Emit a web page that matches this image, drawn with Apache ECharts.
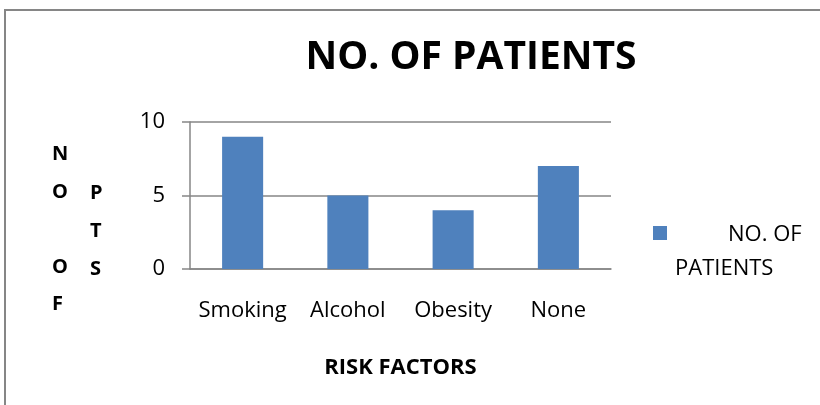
<!DOCTYPE html>
<html>
<head>
<meta charset="utf-8">
<script src="https://cdn.jsdelivr.net/npm/echarts@6/dist/echarts.min.js"></script>
<style>
  html, body { margin: 0; padding: 0; background: #fff; }
  #chart { width: 820px; height: 405px; }
</style>
</head>
<body>
<div id="chart"></div>
<script>
  // data
  var categories = ['Smoking', 'Alcohol', 'Obesity', 'None'];
  var patients = [9, 5, 4, 7];
  var yTicks = [0, 5, 10];
  var seriesName = 'NO. OF PATIENTS';

  var font = '"Open Sans", Lato, sans-serif';
  var axisGray = '#868686';

  var myChart = echarts.init(document.getElementById('chart'));
  var option = {
    animation: false,
    backgroundColor: '#fff',
    title: {
      text: 'NO. OF PATIENTS',
      left: 466,
      top: 33,
      textAlign: 'center',
      textStyle: { fontFamily: font, fontSize: 39, fontWeight: 'bold', color: '#000' }
    },
    legend: {
      left: 653,
      top: 224,
      padding: 0,
      itemWidth: 14,
      itemHeight: 14,
      icon: 'rect',
      data: [seriesName],
      formatter: function () { return '{a|NO. OF}\n{b|PATIENTS}'; },
      textStyle: {
        fontFamily: font, fontSize: 22, color: '#000',
        padding: [38, 0, 0, 0],
        rich: {
          a: { fontFamily: font, fontSize: 22, lineHeight: 34, padding: [0, 0, 0, 56] },
          b: { fontFamily: font, fontSize: 22, lineHeight: 34, padding: [0, 0, 0, 3] }
        }
      }
    },
    grid: { left: 190, right: 209, top: 122, bottom: 136 },
    xAxis: {
      type: 'category',
      data: categories,
      name: 'RISK FACTORS',
      nameLocation: 'middle',
      nameGap: 88,
      nameTextStyle: { fontFamily: font, fontSize: 22, fontWeight: 'bold', color: '#000' },
      axisLine: { lineStyle: { color: axisGray, width: 1.5 } },
      axisTick: { length: 9, lineStyle: { color: axisGray, width: 1.5 } },
      axisLabel: { interval: 0, margin: 31, fontFamily: font, fontSize: 22, color: '#000' }
    },
    yAxis: {
      type: 'value',
      min: yTicks[0],
      max: yTicks[yTicks.length - 1],
      interval: yTicks[1] - yTicks[0],
      axisLine: { show: true, lineStyle: { color: axisGray, width: 1.5 } },
      axisTick: { show: true, length: 8, lineStyle: { color: axisGray, width: 1.5 } },
      splitLine: { lineStyle: { color: axisGray, width: 1.5 } },
      axisLabel: { margin: 25, fontFamily: font, fontSize: 22, color: '#000' }
    },
    graphic: [
      // outer chart frame
      { type: 'rect', shape: { x: 5, y: 10, width: 830, height: 420 },
        style: { fill: 'none', stroke: '#868686', lineWidth: 2 }, silent: true },
      // y axis title, set letter by letter in two columns
      { type: 'text', left: 52, top: 136,
        style: { text: 'N\nO\n\nO\nF', fontFamily: font, fontSize: 20, fontWeight: 'bold',
                 fill: '#000', lineHeight: 37.5, align: 'center' } },
      { type: 'text', left: 90, top: 174,
        style: { text: 'P\nT\nS', fontFamily: font, fontSize: 20, fontWeight: 'bold',
                 fill: '#000', lineHeight: 38, align: 'center' } }
    ],
    series: [{
      name: seriesName,
      type: 'bar',
      data: patients,
      barWidth: '39%',
      itemStyle: { color: '#4F81BD' }
    }]
  };
  myChart.setOption(option);
</script>
</body>
</html>
